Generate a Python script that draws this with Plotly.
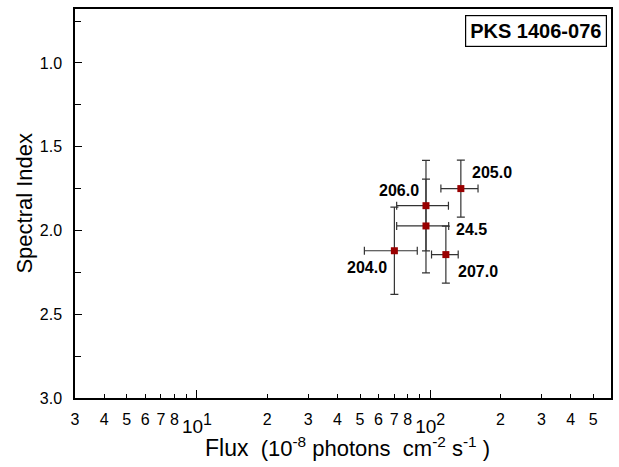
import numpy as np
import plotly.graph_objects as go

# ---- data ----
labels = ["205.0", "206.0", "24.5", "204.0", "207.0"]
flux = [135.3, 95.9, 95.9, 70.2, 116.7]
flux_lo = [111.1, 71.8, 71.8, 52.2, 101.3]
flux_hi = [160.3, 119.7, 120.0, 88.0, 131.8]
index = [1.750, 1.852, 1.973, 2.121, 2.144]
index_err = [0.17, 0.27, 0.28, 0.26, 0.17]

x_tickvals = [3, 4, 5, 6, 7, 8, 20, 30, 40, 50, 60, 70, 80, 200, 300, 400, 500]
x_ticktext = ["3", "4", "5", "6", "7", "8", "2", "3", "4", "5", "6", "7", "8", "2", "3", "4", "5"]
x_minor_vals = [9, 90]
x_decade_vals = [10, 100]
x_decade_text = ["10<sup><span style='font-size:16px'>1</span></sup>",
                 "10<sup><span style='font-size:16px'>2</span></sup>"]
y_tickvals = [1.0, 1.5, 2.0, 2.5, 3.0]
y_ticktext = ["1.0", "1.5", "2.0", "2.5", "3.0"]
source_name = "PKS 1406-076"

# label offsets (pixels) -- styling
label_dx = [31, -27, 46, -27, 32]
label_dy = [16, 15, -4, -17, -17]

FONT = "Liberation Sans, Arial, sans-serif"
XRANGE = [np.log10(3), 2.775]

fig = go.Figure()
fig.add_trace(go.Scatter(
    x=flux, y=index, mode="markers",
    marker=dict(symbol="square", size=7, color="#990000", line=dict(width=0)),
    error_x=dict(type="data", symmetric=False,
                 array=[h - f for h, f in zip(flux_hi, flux)],
                 arrayminus=[f - l for f, l in zip(flux, flux_lo)],
                 color="#333333", thickness=1.2, width=4),
    error_y=dict(type="data", array=index_err, color="#333333", thickness=1.2, width=4),
    showlegend=False, hoverinfo="skip",
))
# carrier trace for the decade-tick overlay axis
fig.add_trace(go.Scatter(x=[], y=[], xaxis="x2", yaxis="y", showlegend=False, hoverinfo="skip"))

for lab, fx, iy, dx, dy in zip(labels, flux, index, label_dx, label_dy):
    fig.add_annotation(x=np.log10(fx), y=iy, text="<b>%s</b>" % lab, showarrow=False,
                       xshift=dx, yshift=dy, font=dict(family=FONT, size=16, color="black"))

fig.add_annotation(xref="paper", yref="paper", x=0.993, y=0.985, xanchor="right", yanchor="top",
                   text="<b>%s</b>" % source_name, showarrow=False,
                   font=dict(family=FONT, size=20, color="black"),
                   bordercolor="black", borderwidth=1.2, borderpad=4, bgcolor="white")

fig.add_annotation(xref="paper", yref="paper", x=0.509, y=0, yshift=-49, xanchor="center", yanchor="middle",
                   text="<span style='font-size:23px'>Flux</span>\u00a0\u00a0(10<sup>-8</sup>\u00a0photons\u00a0\u00a0cm<sup>-2</sup>\u00a0s<sup>-1</sup>\u00a0)",
                   showarrow=False, font=dict(family=FONT, size=22, color="black"))

fig.add_annotation(xref="paper", yref="paper", x=-0.095, y=0.5, xanchor="center", yanchor="middle",
                   text="Spectral Index", textangle=-90, showarrow=False,
                   font=dict(family=FONT, size=22, color="black"))

fig.update_layout(
    xaxis=dict(type="log", range=XRANGE,
               tickvals=x_tickvals, ticktext=x_ticktext,
               ticks="inside", ticklen=4, tickwidth=1, tickcolor="black",
               minor=dict(tickvals=x_minor_vals, ticks="inside", ticklen=4, tickwidth=1,
                          tickcolor="black", showgrid=False),
               showline=True, linecolor="black", linewidth=1.5, mirror=True,
               showgrid=False, zeroline=False, ticklabelstandoff=6,
               tickfont=dict(family=FONT, size=16, color="black")),
    xaxis2=dict(type="log", range=XRANGE, overlaying="x", anchor="y", side="bottom",
                tickvals=x_decade_vals, ticktext=x_decade_text,
                ticks="inside", ticklen=8, tickwidth=1, tickcolor="black",
                showline=False, showgrid=False, zeroline=False, ticklabelstandoff=15,
                tickfont=dict(family=FONT, size=19, color="black")),
    yaxis=dict(range=[3.0, 0.678],
               tickvals=y_tickvals, ticktext=y_ticktext,
               ticks="inside", ticklen=7, tickwidth=1, tickcolor="black",
               minor=dict(dtick=0.25, tick0=0, ticks="inside", ticklen=6, tickwidth=1,
                          tickcolor="black", showgrid=False),
               showline=True, linecolor="black", linewidth=1.5, mirror=True,
               showgrid=False, zeroline=False, ticklabelstandoff=8,
               tickfont=dict(family=FONT, size=16, color="black")),
    width=619, height=467, margin=dict(l=75, r=6, t=9, b=69),
    paper_bgcolor="white", plot_bgcolor="white", showlegend=False,
)

fig.write_html("out.html")
